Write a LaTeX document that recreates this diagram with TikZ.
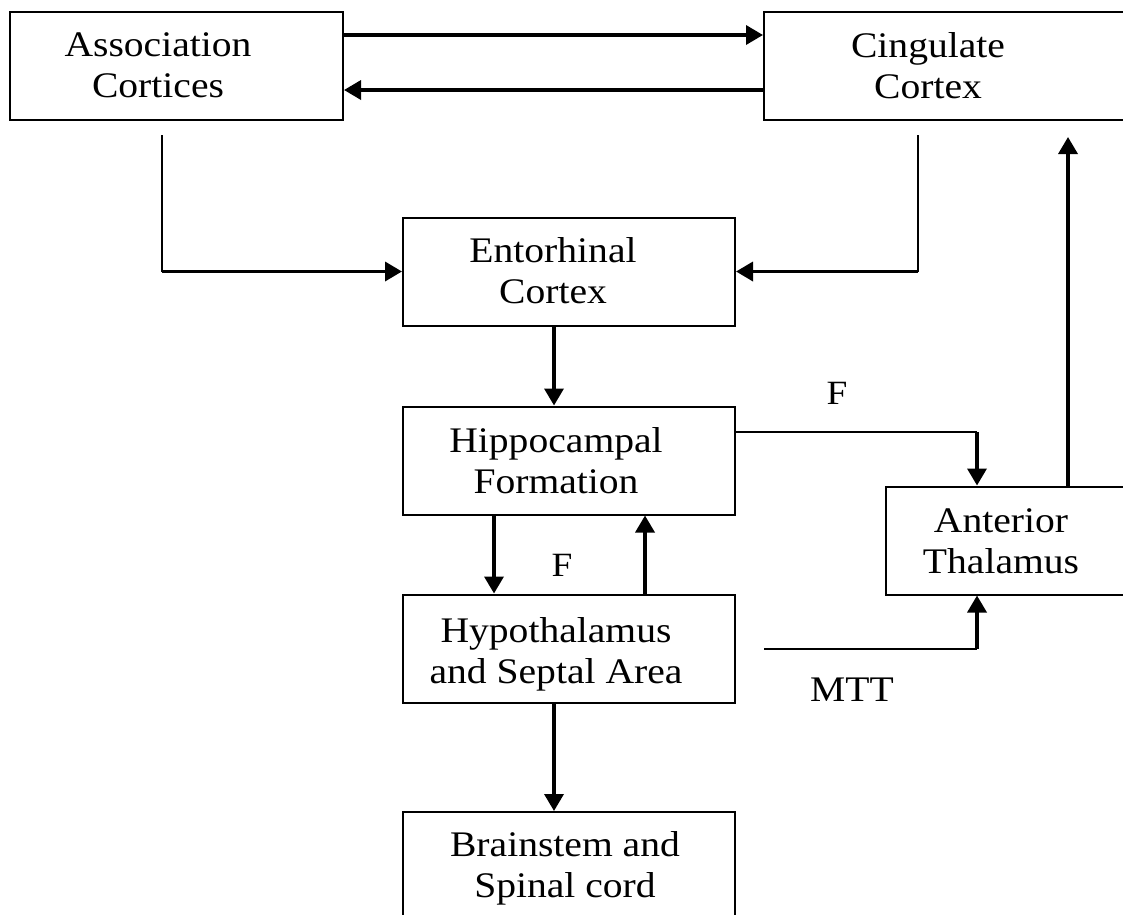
\documentclass[tikz,border=0pt]{standalone}
\usepackage{fontspec}
\setmainfont{Liberation Serif}[FakeStretch=1.1]
\usetikzlibrary{arrows.meta, positioning}

\begin{document}
\begin{tikzpicture}[x=1pt, y=-1pt,
  box/.style={draw, line width=2pt, inner sep=0pt, minimum height=108pt},
  txt/.style={align=center, inner sep=0pt, text depth=0pt, font=\fontsize{36}{41}\selectfont},
  lbl/.style={inner sep=0pt, font=\fontsize{34}{38}\selectfont},
  link/.style={line width=2pt},
  arr/.style={line width=3.5pt, -{Triangle[width=19pt,length=17pt]}}]
\useasboundingbox (0,0) rectangle (1123,914);
\clip (0,0) rectangle (1123,914);

% boxes
\node[box, minimum width=333pt] (assoc) at (176.5,65.5) {};
\node[box, minimum width=366pt] (cing) at (947,65.5) {};
\node[box, minimum width=332pt] (ento) at (569,271.5) {};
\node[box, minimum width=332pt] (hippo) at (569,460.5) {};
\node[box, minimum width=244pt] (athal) at (1008,540.5) {};
\node[box, minimum width=332pt] (hypo) at (569,648.5) {};
\node[box, minimum width=332pt, minimum height=118pt] (brain) at (569,871) {};

% box texts
\node[txt] (assoctxt) at (158,65.5) {Association\\Cortices};
\node[txt] (cingtxt) at (928,65.5) {Cingulate\\Cortex};
\node[txt] (entotxt) at (553,270.5) {Entorhinal\\Cortex};
\node[txt] (hippotxt) at (556,460) {Hippocampal\\Formation};
\node[txt] (athaltxt) at (1001,541.5) {Anterior\\Thalamus};
\node[txt] (hypotxt) at (556,650) {Hypothalamus\\and Septal Area};
\node[txt] (braintxt) at (565,864) {Brainstem and\\Spinal cord};

% top pair
\coordinate (laneA) at (0,35);
\coordinate (laneB) at (0,90);
\draw[arr] (assoc.east |- laneA) -- (cing.west |- laneA);
\draw[arr] (cing.west |- laneB) -- (assoc.east |- laneB);

% into entorhinal cortex
\coordinate (assocdrop) at (162,135);
\coordinate (assocbend) at (assocdrop |- ento.west);
\draw[link] (assocdrop) -- (assocbend);
\draw[arr] (assocbend) -- (ento.west);
\coordinate (cingdrop) at (918,135);
\coordinate (cingbend) at (cingdrop |- ento.east);
\draw[link] (cingdrop) -- (cingbend);
\draw[arr] (cingbend) -- (ento.east);

\draw[arr] ([xshift=-15pt]ento.south) -- ([xshift=-15pt]hippo.north);

% fornix to anterior thalamus
\coordinate (fbend) at (977,432);
\draw[link] (hippo.east |- fbend) -- (fbend);
\draw[arr] (fbend) -- (fbend |- athal.north);
\node[lbl] (ftop) at (837,393) {F};

\coordinate (athalup) at (1068,137);
\draw[arr] (athalup |- athal.north) -- (athalup);

% hippocampus <-> hypothalamus
\draw[arr] ([xshift=-75pt]hippo.south) -- ([xshift=-75pt]hypo.north);
\draw[arr] ([xshift=76pt]hypo.north) -- ([xshift=76pt]hippo.south);
\node[lbl] (fmid) at (562,565) {F};

% mammillothalamic tract
\coordinate (mttstart) at (764,649);
\coordinate (mttbend) at (977,649);
\draw[link] (mttstart) -- (mttbend);
\draw[arr] (mttbend) -- (mttbend |- athal.south);
\node[txt] (mtt) at (852,690) {MTT};

\draw[arr] ([xshift=-15pt]hypo.south) -- ([xshift=-15pt]brain.north);
\end{tikzpicture}
\end{document}
